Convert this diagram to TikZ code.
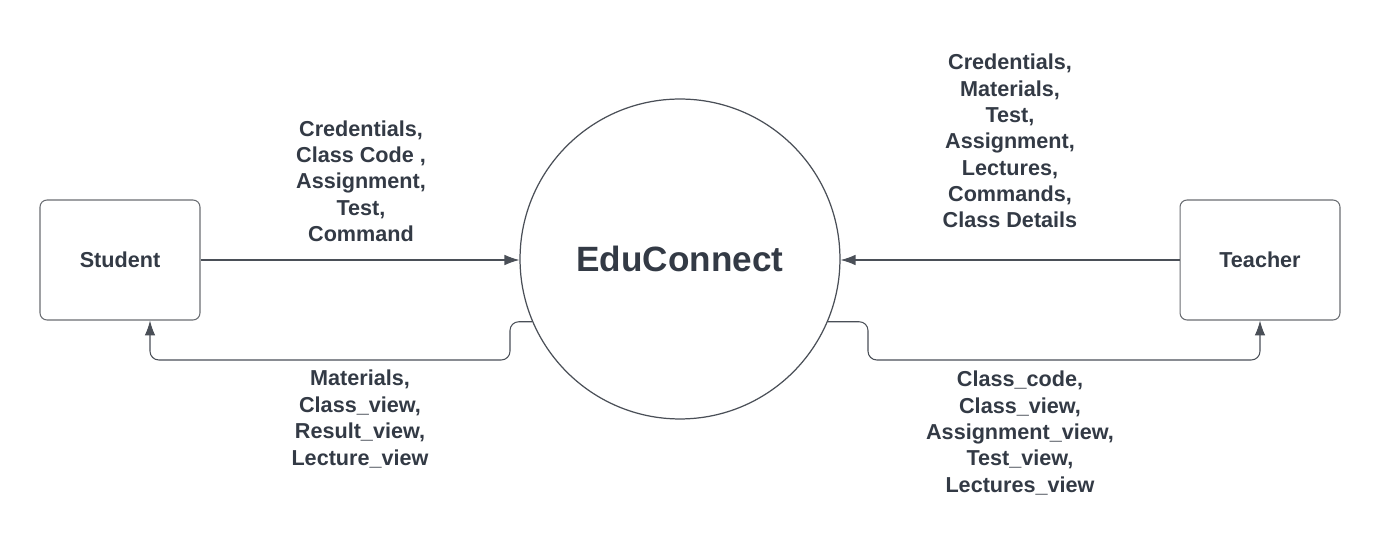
\documentclass[tikz,border=0pt]{standalone}
\usepackage{fontspec}
\setmainfont{Liberation Sans}
\usetikzlibrary{arrows.meta}
\definecolor{inkgray}{HTML}{333A45}
\definecolor{linegray}{HTML}{4A4F57}
\definecolor{boxgray}{HTML}{6A6D72}
\tikzstyle{entity} = [rectangle, draw=boxgray, line width=0.6pt, rounded corners=4pt,
minimum width=3.2cm, minimum height=2.4cm, text=inkgray,
font=\bfseries\fontsize{12.3}{15}\selectfont]
\tikzstyle{process} = [circle, draw=linegray, line width=0.7pt, minimum size=6.4cm,
inner sep=0pt, text=inkgray, font=\bfseries\fontsize{20}{24}\selectfont]
\tikzstyle{flow} = [draw=linegray, line width=0.6pt, rounded corners=5pt,
-{Latex[length=8.5pt,width=6pt]}]
\tikzstyle{flowlabel} = [align=center, text=inkgray,
font=\bfseries\fontsize{12.3}{15}\selectfont]

\begin{document}
\begin{tikzpicture}[x=0.02cm, y=-0.02cm]
	\useasboundingbox (0,0) rectangle (1380,543);
	% Place nodes
	\node [process] (edu) at (680,259) {EduConnect};
	\node [entity] (student) at (120,260) {Student};
	\node [entity] (teacher) at (1260,260) {Teacher};
	%
	\coordinate (sout) at (edu.{180+23});
	\coordinate (tout) at (edu.{-23});
	\path [flow] (student.east) -- (student.east -| edu.west);
	\path [flow] (teacher.west) -- (teacher.west -| edu.east);
	\path [flow] (sout) -| (510,360) -| (student.south west -| 150,0);
	\path [flow] (tout) -| (868,360) -| (teacher.south west -| 1260,0);
	
	\node [flowlabel] (studentIn) at (361,181) {Credentials,\\Class Code ,\\Assignment,\\Test,\\Command};
	\node [flowlabel] (studentOut) at (360,419) {Materials,\\Class\_view,\\Result\_view,\\Lecture\_view};
	\node [flowlabel] (teacherIn) at (1010,141) {Credentials,\\Materials,\\Test,\\Assignment,\\Lectures,\\Commands,\\Class Details};
	\node [flowlabel] (teacherOut) at (1020,433) {Class\_code,\\Class\_view,\\Assignment\_view,\\Test\_view,\\Lectures\_view};
\end{tikzpicture}
\end{document}
